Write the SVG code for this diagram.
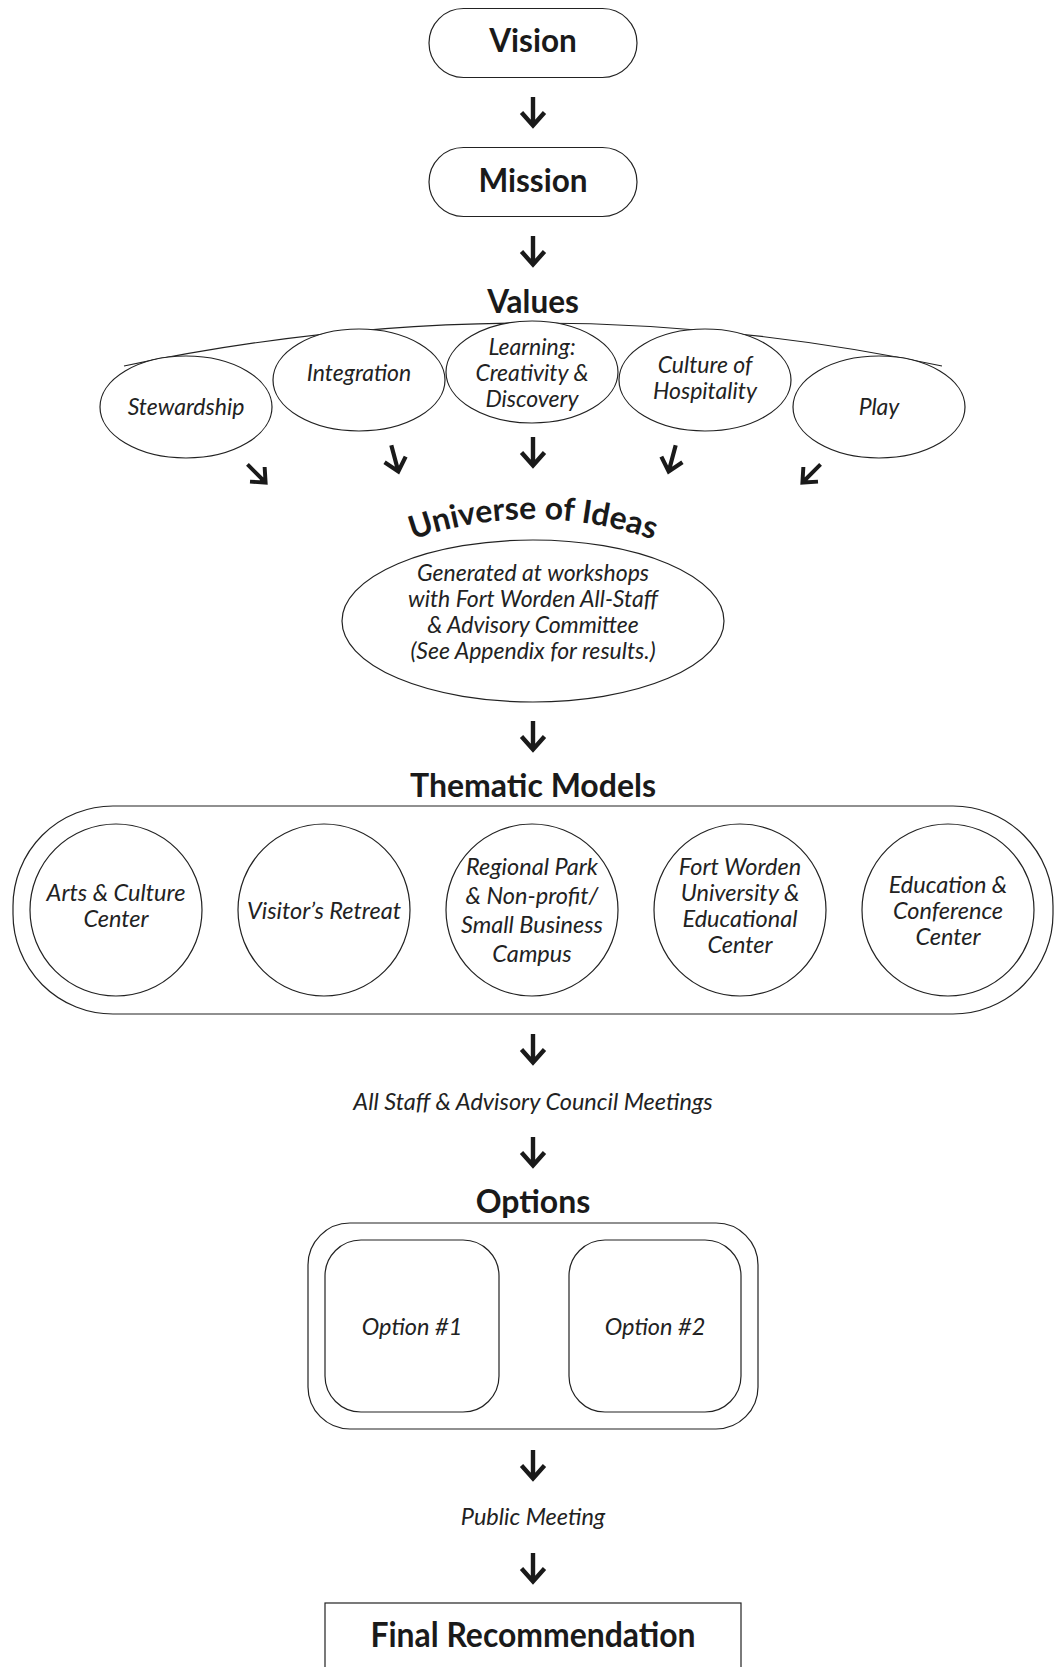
<svg xmlns="http://www.w3.org/2000/svg" width="1058" height="1667" viewBox="0 0 1058 1667">
<style>
.bg{fill:#fff}
.box{fill:#fff;stroke:#222;stroke-width:1.2}
.h{font-family:Lato,"Liberation Sans",sans-serif;font-weight:700;fill:#1a1a1a;text-anchor:middle}
.t{font-family:Lato,"Liberation Sans",sans-serif;font-style:italic;fill:#222;text-anchor:middle}
.arr{fill:none;stroke:#1a1a1a;stroke-width:4.4;stroke-linejoin:miter}
</style>
<defs>
<g id="arrow"><path class="arr" d="M0,-15 V13 M-11.5,0.5 L0,13.5 L11.5,0.5"/></g>
<path id="arcU" d="M 283,620 A 360 360 0 0 1 783,620"/>
</defs>
<rect class="bg" x="0" y="0" width="1058" height="1667"/>

<g id="connectors">
<use href="#arrow" x="533" y="112"/>
<use href="#arrow" x="533" y="251"/>
<use href="#arrow" transform="translate(257,474) rotate(-45) scale(0.9)"/>
<use href="#arrow" transform="translate(395,459) rotate(-15) scale(0.95)"/>
<use href="#arrow" x="533" y="452"/>
<use href="#arrow" transform="translate(672,459) rotate(15) scale(0.95)"/>
<use href="#arrow" transform="translate(811,474) rotate(45) scale(0.9)"/>
<use href="#arrow" x="533" y="736"/>
<use href="#arrow" x="533" y="1049"/>
<use href="#arrow" x="533" y="1152"/>
<use href="#arrow" x="533" y="1465"/>
<use href="#arrow" x="533" y="1568"/>
</g>

<g id="vision">
<rect class="box" x="429" y="8.5" width="208" height="69" rx="34.5"/>
<text class="h" x="533" y="52" font-size="31.5">Vision</text>
</g>
<g id="mission">
<rect class="box" x="429" y="147.5" width="208" height="69" rx="34.5"/>
<text class="h" x="533" y="192" font-size="31.5">Mission</text>
</g>

<g id="values">
<text class="h" x="533" y="313" font-size="31.5">Values</text>
<path class="box" d="M124,366 Q533,280 942,366" style="fill:none"/>
<g id="v-stewardship"><ellipse class="box" cx="186" cy="407" rx="86" ry="51"/><text class="t" x="186" y="415" font-size="23">Stewardship</text></g>
<g id="v-integration"><ellipse class="box" cx="359" cy="380" rx="86" ry="51"/><text class="t" x="359" y="381" font-size="23">Integration</text></g>
<g id="v-learning"><ellipse class="box" cx="532" cy="372" rx="86" ry="51"/><text class="t" x="532" y="355" font-size="23">Learning:</text><text class="t" x="532" y="381" font-size="23">Creativity &amp;</text><text class="t" x="532" y="407" font-size="23">Discovery</text></g>
<g id="v-culture"><ellipse class="box" cx="705" cy="380" rx="86" ry="51"/><text class="t" x="705" y="373" font-size="23">Culture of</text><text class="t" x="705" y="399" font-size="23">Hospitality</text></g>
<g id="v-play"><ellipse class="box" cx="879" cy="407" rx="86" ry="51"/><text class="t" x="879" y="415" font-size="23">Play</text></g>
</g>

<g id="universe">
<text class="h" font-size="32"><textPath href="#arcU" startOffset="50%">Universe of Ideas</textPath></text>
<ellipse class="box" cx="533" cy="621" rx="191" ry="81"/>
<text class="t" x="533" y="581" font-size="23">Generated at workshops</text>
<text class="t" x="533" y="607" font-size="23">with Fort Worden All-Staff</text>
<text class="t" x="533" y="633" font-size="23">&amp; Advisory Committee</text>
<text class="t" x="533" y="659" font-size="23">(See Appendix for results.)</text>
</g>

<g id="thematic">
<text class="h" x="533" y="797" font-size="32">Thematic Models</text>
<rect class="box" x="13" y="806" width="1040" height="208" rx="100"/>
<g id="t-arts"><circle class="box" cx="116" cy="910" r="86"/><text class="t" x="116" y="901" font-size="23.5">Arts &amp; Culture</text><text class="t" x="116" y="927" font-size="23.5">Center</text></g>
<g id="t-visitor"><circle class="box" cx="324" cy="910" r="86"/><text class="t" x="324" y="919" font-size="23.5">Visitor’s Retreat</text></g>
<g id="t-regional"><circle class="box" cx="532" cy="910" r="86"/><text class="t" x="532" y="875" font-size="23.5">Regional Park</text><text class="t" x="532" y="904" font-size="23.5">&amp; Non-profit/</text><text class="t" x="532" y="933" font-size="23.5">Small Business</text><text class="t" x="532" y="962" font-size="23.5">Campus</text></g>
<g id="t-fortworden"><circle class="box" cx="740" cy="910" r="86"/><text class="t" x="740" y="875" font-size="23.5">Fort Worden</text><text class="t" x="740" y="901" font-size="23.5">University &amp;</text><text class="t" x="740" y="927" font-size="23.5">Educational</text><text class="t" x="740" y="953" font-size="23.5">Center</text></g>
<g id="t-education"><circle class="box" cx="948" cy="910" r="86"/><text class="t" x="948" y="893" font-size="23.5">Education &amp;</text><text class="t" x="948" y="919" font-size="23.5">Conference</text><text class="t" x="948" y="945" font-size="23.5">Center</text></g>
</g>

<g id="meetings"><text class="t" x="533" y="1110" font-size="23.5">All Staff &amp; Advisory Council Meetings</text></g>

<g id="options">
<text class="h" x="533" y="1213" font-size="32">Options</text>
<rect class="box" x="308" y="1223" width="450" height="206" rx="42"/>
<g id="option1"><rect class="box" x="325" y="1240" width="174" height="172" rx="36"/><text class="t" x="412" y="1335" font-size="23.5">Option #1</text></g>
<g id="option2"><rect class="box" x="569" y="1240" width="172" height="172" rx="36"/><text class="t" x="655" y="1335" font-size="23.5">Option #2</text></g>
</g>

<g id="public"><text class="t" x="533" y="1525" font-size="23.5">Public Meeting</text></g>

<g id="final">
<rect class="box" x="325" y="1603" width="416" height="90"/>
<text class="h" x="533" y="1647" font-size="35" textLength="325" lengthAdjust="spacingAndGlyphs">Final Recommendation</text>
</g>
</svg>
